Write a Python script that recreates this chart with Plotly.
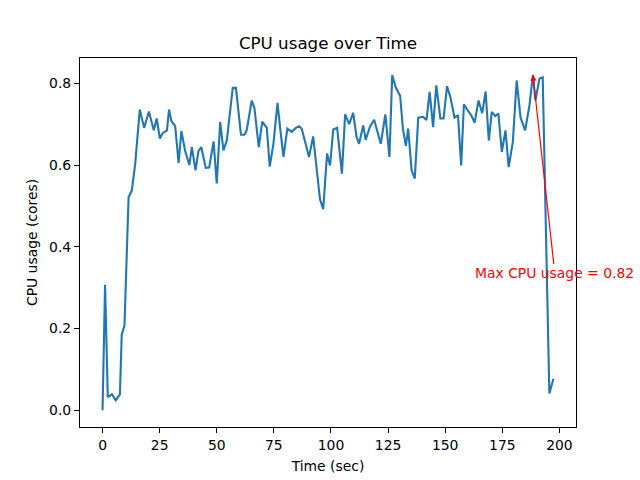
import plotly.graph_objects as go

# Data
time_sec = [0, 1.1, 2.3, 4.1, 5.8, 7.6, 8.4, 9.6, 11.4, 12.8, 14.3, 16.3, 18.2, 20.3, 22.4, 23.7,
            25.1, 26.3, 28.2, 29.1, 30.1, 31.8, 33.3, 34.5, 36.2, 38.0, 39.1, 40.7, 42.0, 43.2,
            45.2, 46.7, 48.6, 50.0, 51.5, 52.9, 54.4, 55.8, 57.0, 58.4, 60.6, 62.1, 63.1, 65.3,
            66.5, 68.4, 69.9, 71.9, 73.2, 74.8, 76.6, 77.7, 79.2, 80.9, 82.8, 84.6, 86.1, 87.2,
            88.6, 90.4, 92.2, 93.7, 95.2, 96.6, 98.3, 99.6, 101.0, 102.7, 104.8, 106.2, 108.0,
            109.7, 111.2, 112.3, 114.1, 115.2, 117.0, 118.9, 121.8, 123.8, 125.6, 126.8, 128.3,
            130.3, 131.5, 132.8, 133.8, 135.3, 136.7, 138.2, 140.3, 141.8, 143.2, 144.7, 146.1,
            147.9, 149.3, 150.8, 152.3, 154.1, 155.6, 157.0, 158.2, 159.5, 161.4, 162.9, 164.6,
            166.2, 167.7, 169.1, 170.4, 171.9, 173.3, 174.8, 176.4, 177.8, 179.6, 181.3, 183.0,
            185.0, 186.9, 188.4, 189.5, 191.3, 192.7, 195.6, 197.4]
cpu_usage = [0.0, 0.307, 0.032, 0.039, 0.024, 0.039, 0.185, 0.207, 0.522, 0.537, 0.603, 0.736,
             0.691, 0.731, 0.685, 0.714, 0.665, 0.678, 0.685, 0.736, 0.708, 0.695, 0.605, 0.683,
             0.634, 0.600, 0.644, 0.587, 0.634, 0.644, 0.593, 0.594, 0.658, 0.555, 0.706, 0.636,
             0.660, 0.726, 0.789, 0.789, 0.674, 0.674, 0.685, 0.758, 0.739, 0.644, 0.706, 0.691,
             0.596, 0.652, 0.752, 0.693, 0.620, 0.689, 0.681, 0.691, 0.695, 0.689, 0.660, 0.620,
             0.670, 0.595, 0.516, 0.492, 0.628, 0.599, 0.687, 0.691, 0.579, 0.724, 0.700, 0.728,
             0.669, 0.652, 0.697, 0.662, 0.693, 0.711, 0.652, 0.724, 0.620, 0.820, 0.791, 0.769,
             0.689, 0.647, 0.689, 0.587, 0.567, 0.716, 0.718, 0.710, 0.779, 0.693, 0.795, 0.714,
             0.714, 0.793, 0.766, 0.716, 0.722, 0.599, 0.749, 0.737, 0.722, 0.704, 0.758, 0.727,
             0.780, 0.660, 0.730, 0.720, 0.726, 0.632, 0.685, 0.595, 0.656, 0.807, 0.716, 0.685,
             0.746, 0.821, 0.758, 0.812, 0.815, 0.041, 0.077]
x_ticks = [0, 25, 50, 75, 100, 125, 150, 175, 200]
y_ticks = [0.0, 0.2, 0.4, 0.6, 0.8]
annot_text_pos = (198, 0.335)

imax = max(range(len(cpu_usage)), key=lambda i: cpu_usage[i])
max_t, max_v = time_sec[imax], cpu_usage[imax]

FONT = "DejaVu Sans"
fig = go.Figure()
fig.add_trace(go.Scatter(x=time_sec, y=cpu_usage, mode="lines",
                         line=dict(color="#1f77b4", width=2.1), showlegend=False))

fig.add_annotation(x=max_t, y=max_v, ax=annot_text_pos[0], ay=annot_text_pos[1],
                   axref="x", ayref="y", xref="x", yref="y",
                   text=f"Max CPU usage = {max_v:.2f}", showarrow=True,
                   arrowcolor="red", arrowwidth=1.2, arrowhead=2, arrowsize=1,
                   font=dict(family=FONT, size=13.9, color="red"))

axis_common = dict(showline=True, mirror=True, linecolor="black", linewidth=1.1,
                   showgrid=False, zeroline=False, ticks="outside", ticklen=5,
                   tickwidth=1.1, tickcolor="black", automargin=False,
                   tickfont=dict(family=FONT, size=13.9, color="black"))

fig.update_layout(
    width=640, height=480,
    margin=dict(l=80, r=64, t=58, b=53, autoexpand=False),
    paper_bgcolor="white", plot_bgcolor="white",
    font=dict(family=FONT, size=13.9, color="black"),
    title=dict(text="CPU usage over Time", x=0.5, xanchor="center", xref="paper",
               y=1 - 43 / 480, yanchor="middle", yref="container",
               font=dict(family=FONT, size=16.7, color="black")),
    xaxis=dict(range=[-9.87, 207.27], tickvals=x_ticks,
               ticktext=[str(v) for v in x_ticks],
               title=dict(text="Time (sec)", standoff=9,
                          font=dict(family=FONT, size=13.9)), **axis_common),
    yaxis=dict(range=[-0.041, 0.862], tickvals=y_ticks,
               ticktext=[f"{v:.1f}" for v in y_ticks],
               title=dict(text="CPU usage (cores)", standoff=8,
                          font=dict(family=FONT, size=13.9)), **axis_common),
)

fig.write_html("out.html", config={"displayModeBar": False},
               post_script="document.body.style.margin='0';document.body.style.overflow='hidden';")
